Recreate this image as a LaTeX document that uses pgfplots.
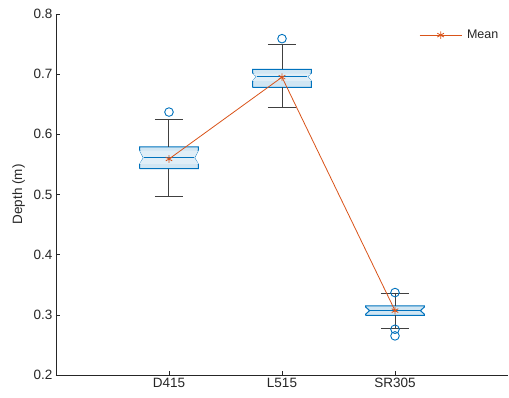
\documentclass[border=0pt]{standalone}
\usepackage{pgfplots}
\pgfplotsset{compat=1.18}
\usepackage{fontspec}
\setmainfont{Liberation Sans}
\definecolor{mblue}{RGB}{0,114,189}
\definecolor{morange}{RGB}{217,83,25}
\definecolor{mgray}{RGB}{38,38,38}
\definecolor{wgray}{RGB}{64,64,64}
\begin{document}
\begin{tikzpicture}
\begin{axis}[
  scale only axis,
  width=452bp, height=361bp,
  xmin=0, xmax=4, ymin=0.2, ymax=0.8,
  axis x line*=bottom, axis y line*=left,
  axis line style={mgray, line width=0.6bp},
  xtick={1,2,3}, xticklabels={D415,L515,SR305},
  ytick={0.2,0.3,0.4,0.5,0.6,0.7,0.8},
  tick align=inside, major tick length=4bp,
  tick style={mgray, line width=0.6bp},
  /pgf/number format/assume math mode=true,
  yticklabel style={/pgf/number format/fixed,/pgf/number format/precision=1,/pgf/number format/fixed zerofill},
  tick label style={font=\fontsize{13.5bp}{16bp}\selectfont, text=mgray},
  ylabel={Depth (m)},
  ylabel style={font=\fontsize{13.5bp}{16bp}\selectfont, text=mgray},
  ylabel shift=2bp,
  legend style={draw=none, fill=none, at={(0.99,0.967)}, anchor=north east,
    font=\fontsize{12.5bp}{15bp}\selectfont, text=mgray},
  legend image code/.code={\draw[mark repeat=2,mark phase=2] plot coordinates {(0cm,0cm)(0.74cm,0cm)(1.48cm,0cm)};},
  clip=false,
]
% ---- D415 ----
\addplot[forget plot, draw=mblue, line width=1bp, fill=mblue!18] coordinates {
 (0.74,0.543)(1.26,0.543)(1.26,0.550)(1.225,0.561)(1.26,0.574)(1.26,0.579)
 (0.74,0.579)(0.74,0.574)(0.775,0.561)(0.74,0.550)(0.74,0.543)};
\addplot[forget plot, draw=none, fill=mblue!12] coordinates {
 (0.74,0.551)(1.26,0.551)(1.225,0.561)(1.26,0.573)(0.74,0.573)(0.775,0.561)(0.74,0.551)};
\addplot[forget plot, mblue, line width=1bp] coordinates {(0.775,0.561)(1.225,0.561)};
\addplot[forget plot, wgray, line width=1bp] coordinates {(1,0.579)(1,0.624)};
\addplot[forget plot, wgray, line width=1bp] coordinates {(0.875,0.624)(1.125,0.624)};
\addplot[forget plot, wgray, line width=1bp] coordinates {(1,0.543)(1,0.496)};
\addplot[forget plot, wgray, line width=1bp] coordinates {(0.875,0.496)(1.125,0.496)};
\addplot[forget plot, only marks, mark=o, mark size=4.3bp, mblue, line width=0.9bp] coordinates {(1,0.637)};
% ---- L515 ----
\addplot[forget plot, draw=mblue, line width=1bp, fill=mblue!18] coordinates {
 (1.74,0.678)(2.26,0.678)(2.26,0.688)(2.225,0.696)(2.26,0.702)(2.26,0.708)
 (1.74,0.708)(1.74,0.702)(1.775,0.696)(1.74,0.688)(1.74,0.678)};
\addplot[forget plot, draw=none, fill=mblue!12] coordinates {
 (1.74,0.689)(2.26,0.689)(2.225,0.696)(2.26,0.701)(1.74,0.701)(1.775,0.696)(1.74,0.689)};
\addplot[forget plot, mblue, line width=1bp] coordinates {(1.775,0.696)(2.225,0.696)};
\addplot[forget plot, wgray, line width=1bp] coordinates {(2,0.708)(2,0.750)};
\addplot[forget plot, wgray, line width=1bp] coordinates {(1.875,0.750)(2.125,0.750)};
\addplot[forget plot, wgray, line width=1bp] coordinates {(2,0.678)(2,0.644)};
\addplot[forget plot, wgray, line width=1bp] coordinates {(1.875,0.644)(2.125,0.644)};
\addplot[forget plot, only marks, mark=o, mark size=4.3bp, mblue, line width=0.9bp] coordinates {(2,0.759)};
% ---- SR305 ----
\addplot[forget plot, draw=mblue, line width=1bp, fill=mblue!18] coordinates {
 (2.74,0.299)(3.26,0.299)(3.26,0.301)(3.225,0.307)(3.26,0.313)(3.26,0.315)
 (2.74,0.315)(2.74,0.313)(2.775,0.307)(2.74,0.301)(2.74,0.299)};
\addplot[forget plot, mblue, line width=1bp] coordinates {(2.775,0.307)(3.225,0.307)};
\addplot[forget plot, wgray, line width=1bp] coordinates {(3,0.315)(3,0.335)};
\addplot[forget plot, wgray, line width=1bp] coordinates {(2.875,0.335)(3.125,0.335)};
\addplot[forget plot, wgray, line width=1bp] coordinates {(3,0.299)(3,0.277)};
\addplot[forget plot, wgray, line width=1bp] coordinates {(2.875,0.277)(3.125,0.277)};
\addplot[forget plot, only marks, mark=o, mark size=4.3bp, mblue, line width=0.9bp] coordinates {(3,0.337)(3,0.276)(3,0.265)};
% ---- Mean ----
\addplot[morange, line width=0.8bp, mark=asterisk, mark size=3.8bp, mark options={line width=0.8bp}] coordinates {(1,0.559)(2,0.695)(3,0.307)};
\addlegendentry{\hspace{3bp}Mean}
\end{axis}
\pgfresetboundingbox
\path[use as bounding box] ([xshift=-56bp,yshift=-23bp]current axis.south west) rectangle ([xshift=1bp,yshift=14bp]current axis.north east);
\end{tikzpicture}
\end{document}
